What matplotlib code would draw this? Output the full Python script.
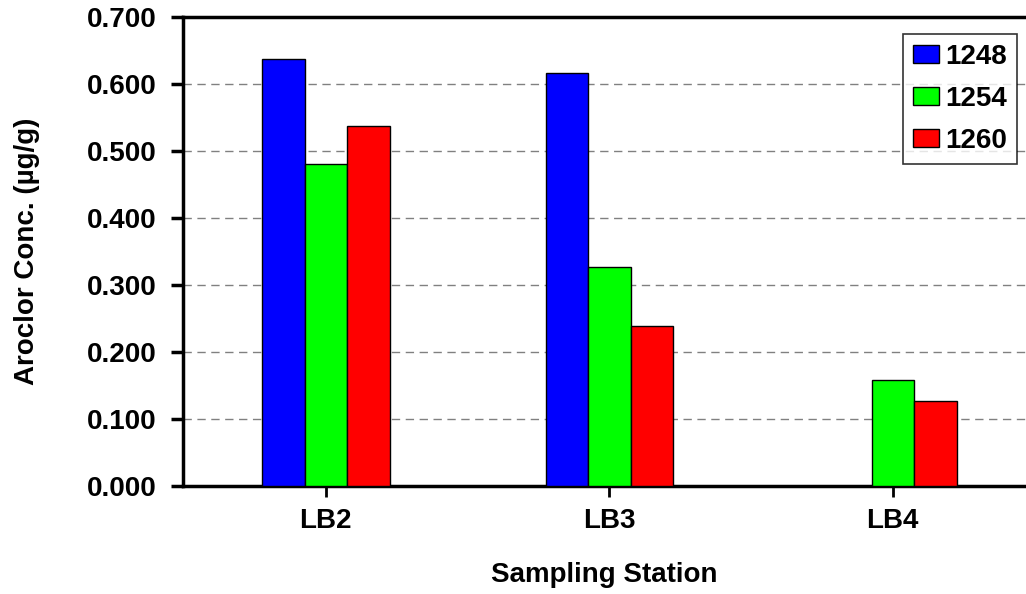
import matplotlib
matplotlib.use("Agg")
import matplotlib.pyplot as plt
import numpy as np

stations = ["LB2", "LB3", "LB4"]
series_names = ["1248", "1254", "1260"]
aroclor_1248 = [0.637, 0.616, 0.0]
aroclor_1254 = [0.481, 0.327, 0.158]
aroclor_1260 = [0.537, 0.239, 0.127]
colors = ["#0000ff", "#00ff00", "#ff0000"]
yticks = [0.0, 0.1, 0.2, 0.3, 0.4, 0.5, 0.6, 0.7]

plt.rcParams['font.family'] = ['Liberation Sans', 'DejaVu Sans']
plt.rcParams['font.weight'] = 'bold'

fig = plt.figure(figsize=(10.26, 5.94), dpi=100)
ax = fig.add_axes([183/1026, 1 - 486/594, 1 - 183/1026, (486 - 17)/594])

x = np.arange(len(stations))
w = 0.15
series = [aroclor_1248, aroclor_1254, aroclor_1260]
for i, (vals, name, c) in enumerate(zip(series, series_names, colors)):
    ax.bar(x + (i - 1) * w, vals, width=w, color=c, edgecolor='black',
           linewidth=1.0, label=name, zorder=3)

ax.set_xlim(-0.504, 2.47)
ax.set_ylim(0, 0.7)
ax.set_yticks(yticks)
ax.set_yticklabels([f"{v:.3f}" for v in yticks])
ax.set_xticks(x)
ax.set_xticklabels(stations)

ax.yaxis.grid(True, linestyle=(0, (6, 4)), color='#808080', linewidth=1.0, zorder=0)
ax.set_axisbelow(True)

for s in ['left', 'bottom', 'top']:
    ax.spines[s].set_linewidth(2.5)
ax.spines['right'].set_visible(False)

ax.tick_params(axis='y', direction='out', length=9, width=2.5, labelsize=20, pad=10)
ax.tick_params(axis='x', direction='out', length=8, width=2.0, labelsize=20, pad=8)
for lab in ax.get_xticklabels() + ax.get_yticklabels():
    lab.set_fontweight('bold')

ax.set_xlabel("Sampling Station", fontsize=20, fontweight='bold', labelpad=20)
ax.set_ylabel("Aroclor Conc. (µg/g)", fontsize=20, fontweight='bold', labelpad=34)

leg = ax.legend(loc='upper right', fontsize=20, frameon=True,
                fancybox=False, shadow=False, handlelength=0.95, handleheight=0.6,
                handletextpad=0.22, borderpad=0.35, labelspacing=0.58,
                borderaxespad=0)
leg.get_frame().set_edgecolor('black')
leg.get_frame().set_linewidth(1.2)
for t in leg.get_texts():
    t.set_fontweight('bold')
leg.set_bbox_to_anchor((1017/1026, 1 - 34/594), transform=fig.transFigure)

fig.savefig("out.png", dpi=100)
